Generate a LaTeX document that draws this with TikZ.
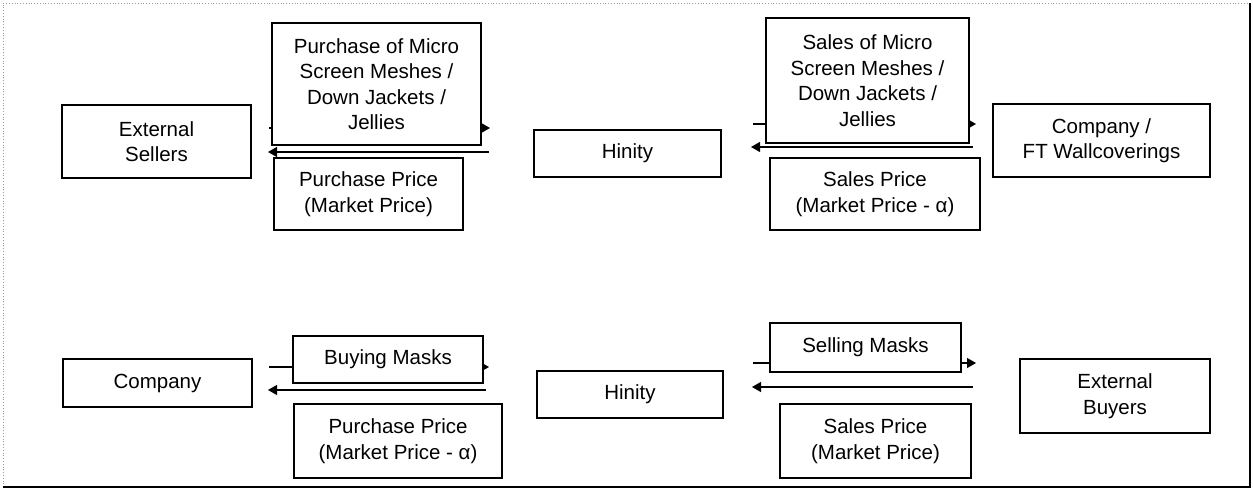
\documentclass[tikz,border=0pt]{standalone}
\usepackage{fontspec}
\setmainfont{Liberation Sans}
\usepackage{tikz}
\usetikzlibrary{arrows.meta}

\tikzset{
  box/.style={draw, line width=2pt, fill=white, align=center, inner sep=0pt,
    font=\fontsize{20.5}{25.5}\selectfont},
  flow/.style={line width=1.2pt, -{Triangle[length=9pt, width=10pt]}},
}

\begin{document}
\begin{tikzpicture}[x=1pt, y=-1pt]
  \useasboundingbox (0,0) rectangle (1253,489);
  % frame
  \draw[black!40, dotted, line width=0.8pt] (3,487) -- (3,3) -- (1250,3);
  \draw[line width=1.6pt] (3,487) -- (1250,487) -- (1250,3);

  % upper row: goods bought in and sold on
  \node[box, minimum width=189pt, minimum height=73pt] (es) at (156.5,141.5) {External\\Sellers};
  \node[box, minimum width=187pt, minimum height=47pt] (hin1) at (627.5,153.5) {Hinity};
  \node[box, minimum width=217pt, minimum height=73pt] (ft) at (1101.5,140.5) {Company /\\FT Wallcoverings};

  \coordinate (f1a) at (269,128);  \coordinate (f1b) at (490,128);
  \coordinate (b1a) at (489,152);  \coordinate (b1b) at (268,152);
  \coordinate (f2a) at (753,124);  \coordinate (f2b) at (976,124);
  \coordinate (b2a) at (973,147);  \coordinate (b2b) at (751,147);
  \draw[flow] (f1a) -- (f1b);
  \draw[flow] (b1a) -- (b1b);
  \draw[flow] (f2a) -- (f2b);
  \draw[flow] (b2a) -- (b2b);

  \node[box, minimum width=209pt, minimum height=122pt] (pm) at (376.5,84) {Purchase of Micro\\Screen Meshes /\\Down Jackets /\\Jellies};
  \node[box, minimum width=189pt, minimum height=72pt] (pp1) at (368.5,194) {Purchase Price\\(Market Price)};
  \node[box, minimum width=203pt, minimum height=125pt] (sm) at (867.5,80.5) {Sales of Micro\\Screen Meshes /\\Down Jackets /\\Jellies};
  \node[box, minimum width=210pt, minimum height=72pt] (sp1) at (875,194) {Sales Price\\(Market Price - α)};

  % lower row: masks
  \node[box, minimum width=189pt, minimum height=48pt] (co) at (157.5,383) {Company};
  \node[box, minimum width=186pt, minimum height=47pt] (hin2) at (630,394.5) {Hinity};
  \node[box, minimum width=190pt, minimum height=74pt] (eb) at (1115,396) {External\\Buyers};

  \coordinate (f3a) at (269,367);  \coordinate (f3b) at (489,367);
  \coordinate (b3a) at (486,390);  \coordinate (b3b) at (268,390);
  \coordinate (f4a) at (753,363);  \coordinate (f4b) at (976,363);
  \coordinate (b4a) at (973,387);  \coordinate (b4b) at (752,387);
  \draw[flow] (f3a) -- (f3b);
  \draw[flow] (b3a) -- (b3b);
  \draw[flow] (f4a) -- (f4b);
  \draw[flow] (b4a) -- (b4b);

  \node[box, minimum width=190pt, minimum height=47pt] (bm) at (388,359.5) {Buying Masks};
  \node[box, minimum width=208pt, minimum height=74pt] (pp2) at (398,441) {Purchase Price\\(Market Price - α)};
  \node[box, minimum width=191pt, minimum height=49pt] (sl) at (865.5,347.5) {Selling Masks};
  \node[box, minimum width=191pt, minimum height=74pt] (sp2) at (875.5,441) {Sales Price\\(Market Price)};
\end{tikzpicture}
\end{document}
